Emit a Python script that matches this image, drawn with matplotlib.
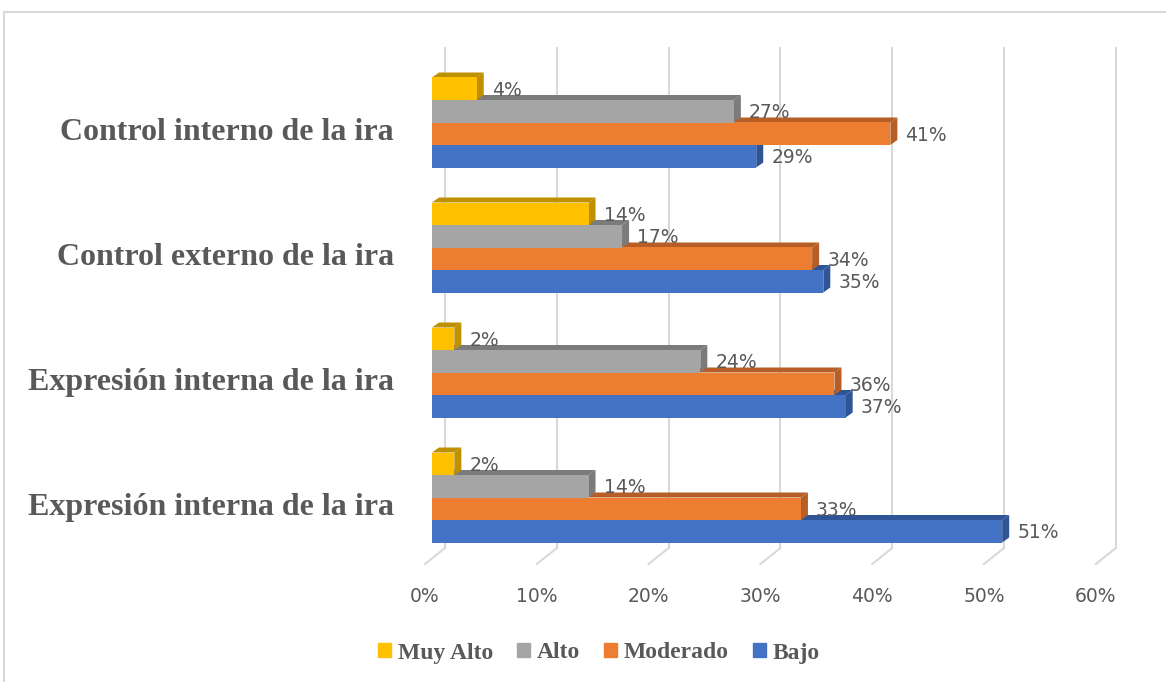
import matplotlib.pyplot as plt
from matplotlib.patches import Polygon, Rectangle, Patch

# data (percent)
categories = ['Control interno de la ira', 'Control externo de la ira',
              'Expresión interna de la ira', 'Expresión interna de la ira']
series = ['Muy Alto', 'Alto', 'Moderado', 'Bajo']
muy_alto = [4, 14, 2, 2]
alto = [27, 17, 24, 14]
moderado = [41, 34, 36, 33]
bajo = [29, 35, 37, 51]
ticks = [0, 10, 20, 30, 40, 50, 60]

front = {'Muy Alto': '#FFC000', 'Alto': '#A5A5A5', 'Moderado': '#ED7D31', 'Bajo': '#4472C4'}
shade = {'Muy Alto': '#BF9000', 'Alto': '#7B7B7B', 'Moderado': '#B65E25', 'Bajo': '#2F5597'}
txt = '#595959'

W, H = 1166, 682
PX = 11.18      # pixels per percent
PY = 125.0      # pixels per category step
X0, Y0 = 432, 497.5

fig = plt.figure(figsize=(W / 100, H / 100), dpi=100)
ax = fig.add_axes([0, 0, 1, 1])
ax.set_axis_off()
ax.set_xlim(-X0 / PX, (W - X0) / PX)
ax.set_ylim((Y0 - H) / PY, Y0 / PY)

def py(p):
    return (Y0 - p) / PY

# 3d offsets (in data units)
bdx, bdy = 7 / PX, 5 / PY          # bar depth
wall_dx = 13 / PX
front_dx = -7 / PX

# back wall gridlines + floor lines
for t in ticks:
    ax.plot([t + wall_dx, t + wall_dx], [py(548), py(48)], color='#D9D9D9', lw=1.5, zorder=0)
    ax.plot([t + wall_dx, t + front_dx], [py(548), py(564)], color='#D9D9D9', lw=1.5, zorder=0)
    ax.text(t + front_dx, py(597), f'{t}%', ha='center', va='center',
            fontsize=13.5, color=txt)

h = 22.5 / PY
vals = {'Muy Alto': muy_alto, 'Alto': alto, 'Moderado': moderado, 'Bajo': bajo}
offs = {'Bajo': -1.5, 'Moderado': -0.5, 'Alto': 0.5, 'Muy Alto': 1.5}
n = len(categories)
centers = [n - 1 - i for i in range(n)]

for z, s in enumerate(['Bajo', 'Moderado', 'Alto', 'Muy Alto']):
    ys = [c + offs[s] * h for c in centers]
    ax.barh(ys, vals[s], height=h, color=front[s], zorder=2 + z)
    for y, v in zip(ys, vals[s]):
        top = y + h / 2
        bot = y - h / 2
        ax.add_patch(Polygon([(0, top), (v, top), (v + bdx, top + bdy), (bdx, top + bdy)],
                             closed=True, color=shade[s], lw=0, zorder=1.9 + z))
        ax.add_patch(Polygon([(v, bot), (v + bdx, bot + bdy), (v + bdx, top + bdy), (v, top)],
                             closed=True, color=shade[s], lw=0, zorder=1.9 + z))
        ax.text(v + bdx + 8 / PX, y - 1.5 / PY, f'{v}%', ha='left', va='center',
                fontsize=13.5, color=txt, zorder=10)

for c, lab in zip(centers, categories):
    ax.text(-38 / PX, c - 10 / PY, lab, ha='right', va='center', family='Liberation Serif',
            fontweight='bold', fontsize=23, color=txt)

handles = [Patch(color=front[s]) for s in series]
fig.legend(handles, series, loc='center', bbox_to_anchor=(599 / W, 1 - 653 / H), ncol=4,
           frameon=False, handlelength=0.55, handleheight=0.55, handletextpad=0.3,
           columnspacing=1.0, prop={'family': 'Liberation Serif', 'weight': 'bold', 'size': 17},
           labelcolor=txt)

fig.patches.append(Rectangle((4 / W, -0.1), 1.5, (H - 12) / H + 0.1, transform=fig.transFigure,
                             fill=False, ec='#D9D9D9', lw=1.5))

fig.savefig('out.png', dpi=100)
